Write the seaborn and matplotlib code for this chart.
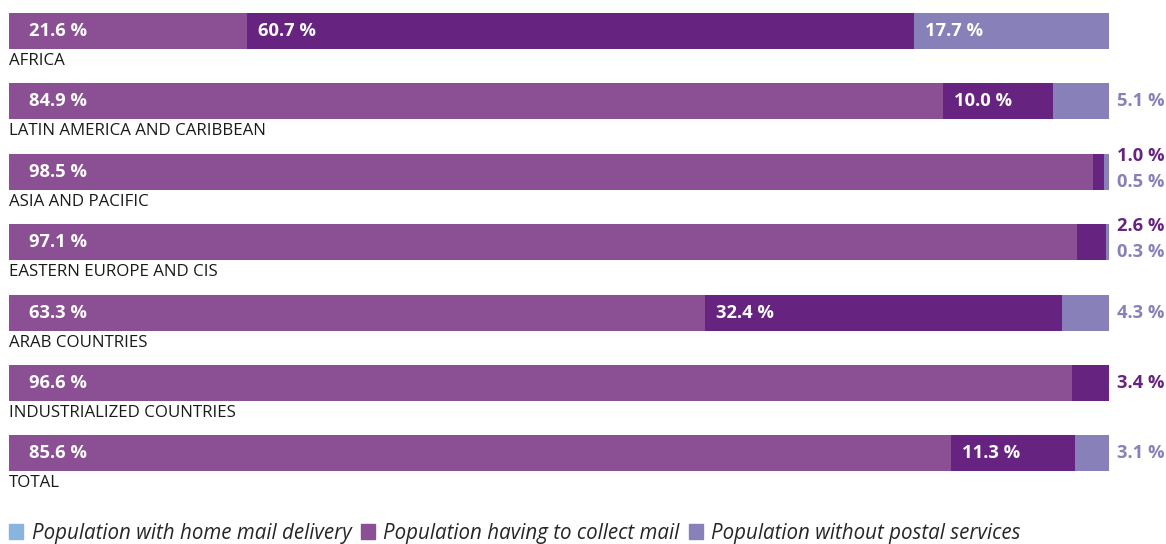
import numpy as np
import pandas as pd
import seaborn as sns
import matplotlib.pyplot as plt
from matplotlib.patches import Patch

sns.set_style('white')
plt.rcParams['font.family'] = ['Open Sans', 'DejaVu Sans']

regions   = ['AFRICA', 'LATIN AMERICA AND CARIBBEAN', 'ASIA AND PACIFIC',
             'EASTERN EUROPE AND CIS', 'ARAB COUNTRIES', 'INDUSTRIALIZED COUNTRIES', 'TOTAL']
home      = [21.6, 84.9, 98.5, 97.1, 63.3, 96.6, 85.6]
collect   = [60.7, 10.0, 1.0, 2.6, 32.4, 3.4, 11.3]
no_postal = [17.7, 5.1, 0.5, 0.3, 4.3, 0.0, 3.1]
legend_labels = ['Population with home mail delivery',
                 'Population having to collect mail',
                 'Population without postal services']

c_home    = '#8b4f93'
c_collect = '#66237f'
c_none    = '#8880b8'
c_legend  = '#89b4de'

df = pd.DataFrame({'region': regions, 'home': home, 'collect': collect, 'none': no_postal})
df['cum2'] = df['home'] + df['collect']
df['cum3'] = df['cum2'] + df['none']

fig = plt.figure(figsize=(11.66, 5.44), dpi=100)
ax = fig.add_axes([0, 0, 1, 1])

# stacked bars: draw cumulative totals back to front
for col, c in [('cum3', c_none), ('cum2', c_collect), ('home', c_home)]:
    sns.barplot(data=df, x=col, y='region', color=c, saturation=1, width=0.51,
                orient='h', ax=ax, linewidth=0)

ax.set_xlim(-9 / 11, (1166 - 9) / 11)
ax.set_ylim((544 - 31) / 70.4, -31 / 70.4)
ax.axis('off')

lab_kw = dict(textcoords='offset pixels', fontsize=13.2, fontweight='bold', va='center')
for i, r in df.iterrows():
    ax.annotate(r['region'], (0, i), xytext=(0, -30), textcoords='offset pixels',
                fontsize=12.2, color='#1a1a1a', va='center', ha='left')
    segs = [(r['home'], 0, c_home, 20), (r['collect'], r['home'], c_collect, 11),
            (r['none'], r['cum2'], c_none, 11)]
    outside = []
    for val, start, c, off in segs:
        if val >= 8:
            ax.annotate(f'{val:.1f} %', (start, i), xytext=(off, 0), color='white',
                        ha='left', **lab_kw)
        elif val > 0:
            outside.append((val, c))
    if len(outside) == 1:
        offsets = [0]
    else:
        offsets = [16, -10]
    for (val, c), dy in zip(outside, offsets):
        ax.annotate(f'{val:.1f} %', (100, i), xytext=(8, dy), color=c, ha='left', **lab_kw)

handles = [Patch(color=c) for c in [c_legend, c_home, c_none]]
fig.legend(handles, legend_labels, loc='center left', ncol=3,
           bbox_to_anchor=(9 / 1166, 1 - 533 / 544), bbox_transform=fig.transFigure,
           frameon=False, borderpad=0, borderaxespad=0, handlelength=0.7, handleheight=0.7,
           handletextpad=0.4, columnspacing=0.45,
           prop={'family': 'Open Sans', 'style': 'italic', 'size': 14.8})

plt.savefig('out.png', dpi=100)
